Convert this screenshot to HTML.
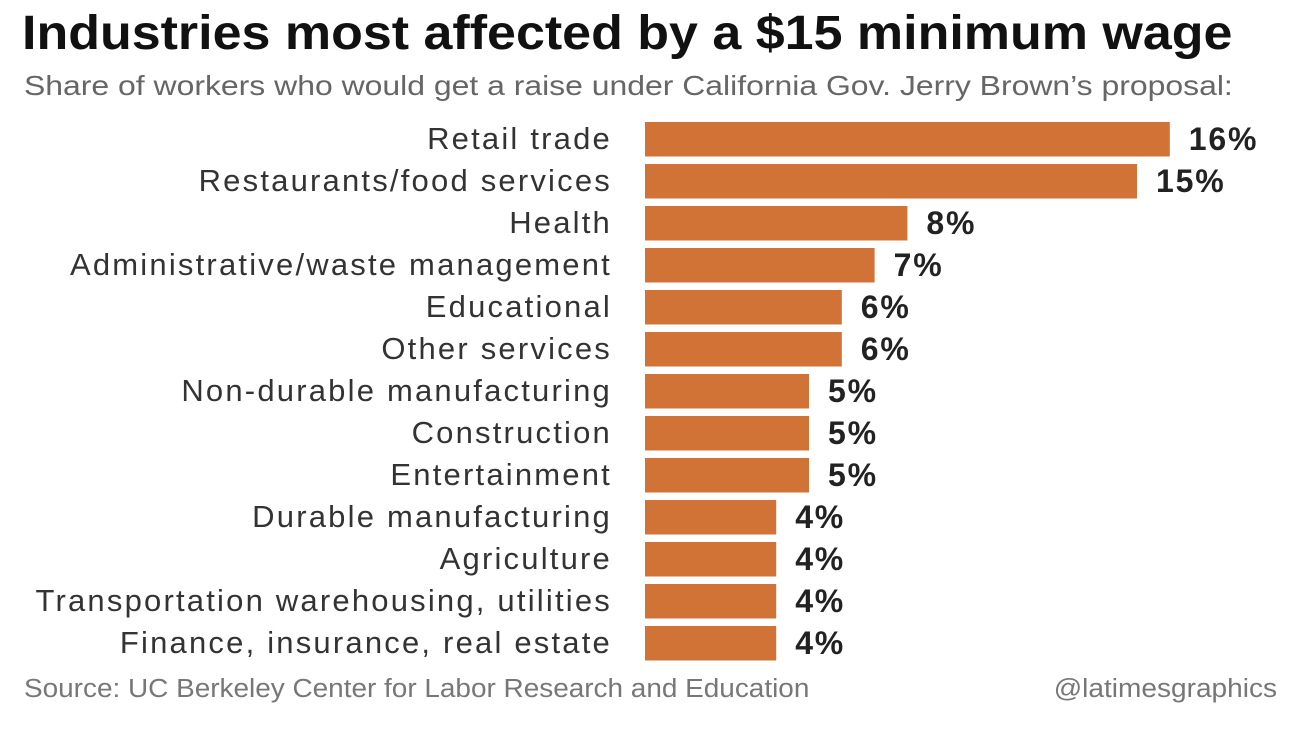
<!DOCTYPE html>
<html><head><meta charset="utf-8">
<style>
body{margin:0;background:#fff;width:1307px;height:734px;overflow:hidden;font-family:"Liberation Sans",sans-serif;}
#title{position:absolute;left:22px;top:6px;font-size:48px;font-weight:bold;color:#111;white-space:nowrap;transform-origin:0 0;transform:scaleX(1.083)}
#sub{position:absolute;left:24px;top:70px;font-size:28px;color:#666;white-space:nowrap;transform-origin:0 0;transform:scaleX(1.14)}
#src{position:absolute;left:24px;top:675px;font-size:25.5px;color:#777;white-space:nowrap;transform-origin:0 0;transform:scaleX(1.095)}
#credit{position:absolute;right:30px;top:675px;font-size:25.5px;color:#777;white-space:nowrap;transform-origin:100% 0;transform:scaleX(1.1)}
svg{position:absolute;left:0;top:0}
</style></head><body>
<div id="title">Industries most affected by a $15 minimum wage</div>
<div id="sub">Share of workers who would get a raise under California Gov. Jerry Brown’s proposal:</div>
<svg id="chart" width="1307" height="734"></svg>
<div id="src">Source: UC Berkeley Center for Labor Research and Education</div>
<div id="credit">@latimesgraphics</div>
<script>
const categories=["Retail trade","Restaurants/food services","Health","Administrative/waste management","Educational","Other services","Non-durable manufacturing","Construction","Entertainment","Durable manufacturing","Agriculture","Transportation warehousing, utilities","Finance, insurance, real estate"];
const values=[16,15,8,7,6,6,5,5,5,4,4,4,4];
const valueLabels=["16%","15%","8%","7%","6%","6%","5%","5%","5%","4%","4%","4%","4%"];
const svg=document.getElementById('chart');
const NS="http://www.w3.org/2000/svg";
const x0=645, pxPer=32.8, y0=122, pitch=42, bh=34.5;
function xs(v){return x0+v*pxPer;}
function ys(i){return y0+i*pitch;}
categories.forEach((c,i)=>{
  const r=document.createElementNS(NS,'rect');
  r.setAttribute('x',x0);r.setAttribute('y',ys(i));
  r.setAttribute('width',xs(values[i])-x0);r.setAttribute('height',bh);
  r.setAttribute('fill','#D17336');
  
  
  svg.appendChild(r);
  const t=document.createElementNS(NS,'text');
  t.setAttribute('x',612);t.setAttribute('y',ys(i)+27);
  t.setAttribute('text-anchor','end');t.setAttribute('font-size','31');
  t.setAttribute('fill','#333');t.setAttribute('font-family','Liberation Sans, sans-serif');
  t.setAttribute('letter-spacing','2.2');
  t.textContent=c;
  
  
  svg.appendChild(t);
  const v=document.createElementNS(NS,'text');
  v.setAttribute('x',xs(values[i])+19);v.setAttribute('y',ys(i)+28);
  v.setAttribute('font-size','32');v.setAttribute('font-weight','bold');
  v.setAttribute('letter-spacing','1.8');
  v.setAttribute('fill','#222');v.setAttribute('font-family','Liberation Sans, sans-serif');
  v.textContent=valueLabels[i];
  
  
  svg.appendChild(v);
});
</script>
</body></html>
